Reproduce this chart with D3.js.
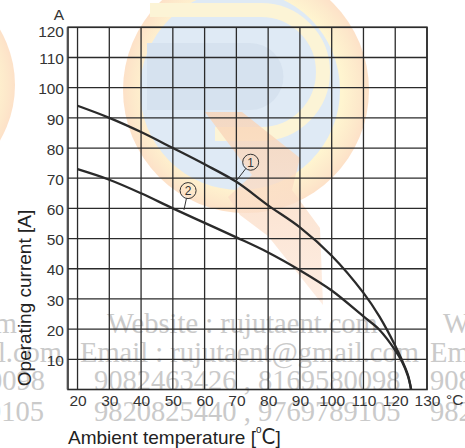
<!DOCTYPE html>
<html><head><meta charset="utf-8">
<script src="https://cdn.jsdelivr.net/npm/d3@7"></script>
<style>body{margin:0;background:#fff}svg{display:block}</style>
</head><body>
<svg id="c" width="465" height="448"></svg>
<script>
// ---- data ----
const temps = [20, 30, 40, 50, 60, 70, 80, 90, 100, 110, 115, 120, 122, 124, 125];
const current1 = [94, 90, 85.3, 80, 74.6, 68.8, 61, 53.7, 44.3, 32, 24.2, 14.5, 10, 4.8, 0];
const current2 = [73, 69.5, 65, 60, 55.2, 50.4, 45.4, 39.5, 32.8, 24.2, 19.8, 13, 9.5, 4.4, 0];
const xTicks = [20, 30, 40, 50, 60, 70, 80, 90, 100, 110, 120, 130];
const yTicks = [10, 20, 30, 40, 50, 60, 70, 80, 90, 100, 110, 120];
const seriesNames = ["1", "2"];
const labelAt = [[74.5, 75.3], [54.8, 65.9]];      // callout circle (temp, A)
const labelTo = [[69.8, 68.9], [53.5, 59.5]];      // leader end on curve
const watermark = ["Website : rujutaent.com", "Email : rujutaent@gmail.com",
                   "9082463426 , 8169580098", "9820825440 , 9769789105"];

const svg = d3.select("#c");
const F = "'Liberation Sans', Arial, sans-serif";

// ---- watermark (logo + text) ----
const defs = svg.append("defs");
const gO = defs.append("radialGradient").attr("id", "gO");
gO.append("stop").attr("offset", "0%").attr("stop-color", "#fffbe8");
gO.append("stop").attr("offset", "78%").attr("stop-color", "#fff5d0");
gO.append("stop").attr("offset", "92%").attr("stop-color", "#fde9cb");
gO.append("stop").attr("offset", "100%").attr("stop-color", "#fde1c8");
const gB = defs.append("linearGradient").attr("id", "gB").attr("x1", 0).attr("y1", 0).attr("x2", 0).attr("y2", 1);
gB.append("stop").attr("offset", "0%").attr("stop-color", "#f9d4b6");
gB.append("stop").attr("offset", "100%").attr("stop-color", "#fde9dc");
const wm = svg.append("g");
wm.append("circle").attr("cx", -95).attr("cy", 85).attr("r", 110).attr("fill", "url(#gO)");
wm.append("circle").attr("cx", 246).attr("cy", 90).attr("r", 123).attr("fill", "url(#gO)");
wm.append("circle").attr("cx", 240).attr("cy", 90).attr("r", 100).attr("fill", "#dfeaf5");
wm.append("path").attr("d", "M150,10 H261 A62,62 0 0 1 261,134 H215")
  .attr("fill", "none").attr("stroke", "#fcf4d6").attr("stroke-width", 14);
wm.append("path").attr("d", "M147,43 H250 A33.5,33.5 0 0 1 250,110 H147 Z").attr("fill", "#d6e2ef");
wm.append("path").attr("d", "M205,112 L242,112 L300,158 L292,190 L320,228 L323,305 L268,236 L240,215 L228,197 L252,175 Z")
  .attr("fill", "url(#gB)").attr("opacity", 0.8);

const wmRows = [
  {t: watermark[0], y: 333, xs: [[17, "end"], [107, "start"], [443, "start"]]},
  {t: watermark[1], y: 362, xs: [[62, "end"], [80, "start"], [430, "start"]]},
  {t: watermark[2], y: 390, xs: [[45, "end"], [94, "start"], [430, "start"]]},
  {t: watermark[3], y: 421, xs: [[44, "end"], [94, "start"], [430, "start"]]}
];
wmRows.forEach(r => r.xs.forEach(([x, a]) => {
  wm.append("text").attr("x", x).attr("y", r.y).attr("text-anchor", a)
    .attr("font-family", "'Liberation Serif', 'Times New Roman', serif")
    .attr("font-size", 28.5).attr("fill", "#cacaca").text(r.t);
}));

// ---- scales ----
const x = d3.scaleLinear().domain([17, 130]).range([68, 427]);
const y = d3.scaleLinear().domain([0, 120]).range([389.5, 27.3]);

// ---- grid ----
const grid = svg.append("g").attr("stroke", "#2b2b2b").attr("stroke-width", 1.3);
grid.selectAll(".v").data(xTicks).join("line")
  .attr("x1", d => x(d)).attr("x2", d => x(d)).attr("y1", y(0)).attr("y2", y(120));
grid.selectAll(".h").data(yTicks).join("line")
  .attr("x1", x(17)).attr("x2", x(130)).attr("y1", d => y(d)).attr("y2", d => y(d));
// frame
svg.append("line").attr("x1", x(17) - 1.2).attr("x2", x(17) - 1.2).attr("y1", y(0)).attr("y2", y(120))
  .attr("stroke", "#aaa").attr("stroke-width", 1);
svg.append("rect").attr("x", x(17)).attr("y", y(120)).attr("width", x(130) - x(17)).attr("height", y(0) - y(120))
  .attr("fill", "none").attr("stroke", "#2b2b2b").attr("stroke-width", 1.6);

// ---- axes ----
const yAx = svg.append("g").attr("transform", `translate(${x(17) - 4},0)`)
  .call(d3.axisLeft(y).tickValues(yTicks).tickSize(0).tickPadding(0));
yAx.select(".domain").remove();
yAx.selectAll("text").attr("font-family", F).attr("font-size", 15.5).attr("fill", "#333")
  .attr("dy", d => d === 120 ? "0.62em" : "0.4em");

const xAx = svg.append("g").attr("transform", `translate(0,${y(0)})`)
  .call(d3.axisBottom(x).tickValues(xTicks).tickSize(0).tickPadding(5));
xAx.select(".domain").remove();
xAx.selectAll("text").attr("font-family", F).attr("font-size", 15.5).attr("fill", "#333");

svg.append("text").attr("x", 446).attr("y", 405).attr("font-family", F).attr("font-size", 15.5)
  .attr("fill", "#333").text("°C");
svg.append("text").attr("x", 59).attr("y", 20).attr("text-anchor", "middle").attr("font-family", F)
  .attr("font-size", 15.5).attr("fill", "#333").text("A");

svg.append("text").attr("transform", "translate(31,298) rotate(-90)").attr("text-anchor", "middle")
  .attr("font-family", F).attr("font-size", 19).attr("fill", "#222").text("Operating current [A]");

const xt = svg.append("text").attr("x", 68).attr("y", 444).attr("font-family", F)
  .attr("font-size", 19).attr("fill", "#222");
xt.append("tspan").text("Ambient temperature [");
xt.append("tspan").attr("font-size", 10).attr("dy", -11).text("o");
xt.append("tspan").attr("font-size", 22).attr("dy", 11)
  .attr("font-family", "'Liberation Sans Narrow', 'DejaVu Sans Condensed', Arial").attr("font-stretch", "condensed").text("C");
xt.append("tspan").text("]");

// ---- curves ----
const line = d3.line().x((d, i) => x(temps[i])).y(d => y(d)).curve(d3.curveCatmullRom.alpha(0.5));
[current1, current2].forEach(s => {
  svg.append("path").attr("d", line(s)).attr("fill", "none")
    .attr("stroke", "#2a2a2a").attr("stroke-width", 2.3);
});

// ---- callouts ----
seriesNames.forEach((n, i) => {
  const cx = x(labelAt[i][0]), cy = y(labelAt[i][1]);
  const ex = x(labelTo[i][0]), ey = y(labelTo[i][1]);
  const ang = Math.atan2(ey - cy, ex - cx), r = 8;
  svg.append("line").attr("x1", cx + r * Math.cos(ang)).attr("y1", cy + r * Math.sin(ang))
    .attr("x2", ex).attr("y2", ey).attr("stroke", "#333").attr("stroke-width", 1);
  svg.append("circle").attr("cx", cx).attr("cy", cy).attr("r", r)
    .attr("fill", "none").attr("stroke", "#333").attr("stroke-width", 1);
  svg.append("text").attr("x", cx).attr("y", cy).attr("dy", "0.36em").attr("text-anchor", "middle")
    .attr("font-family", F).attr("font-size", 12).attr("fill", "#333").text(n);
});
</script>
</body></html>
